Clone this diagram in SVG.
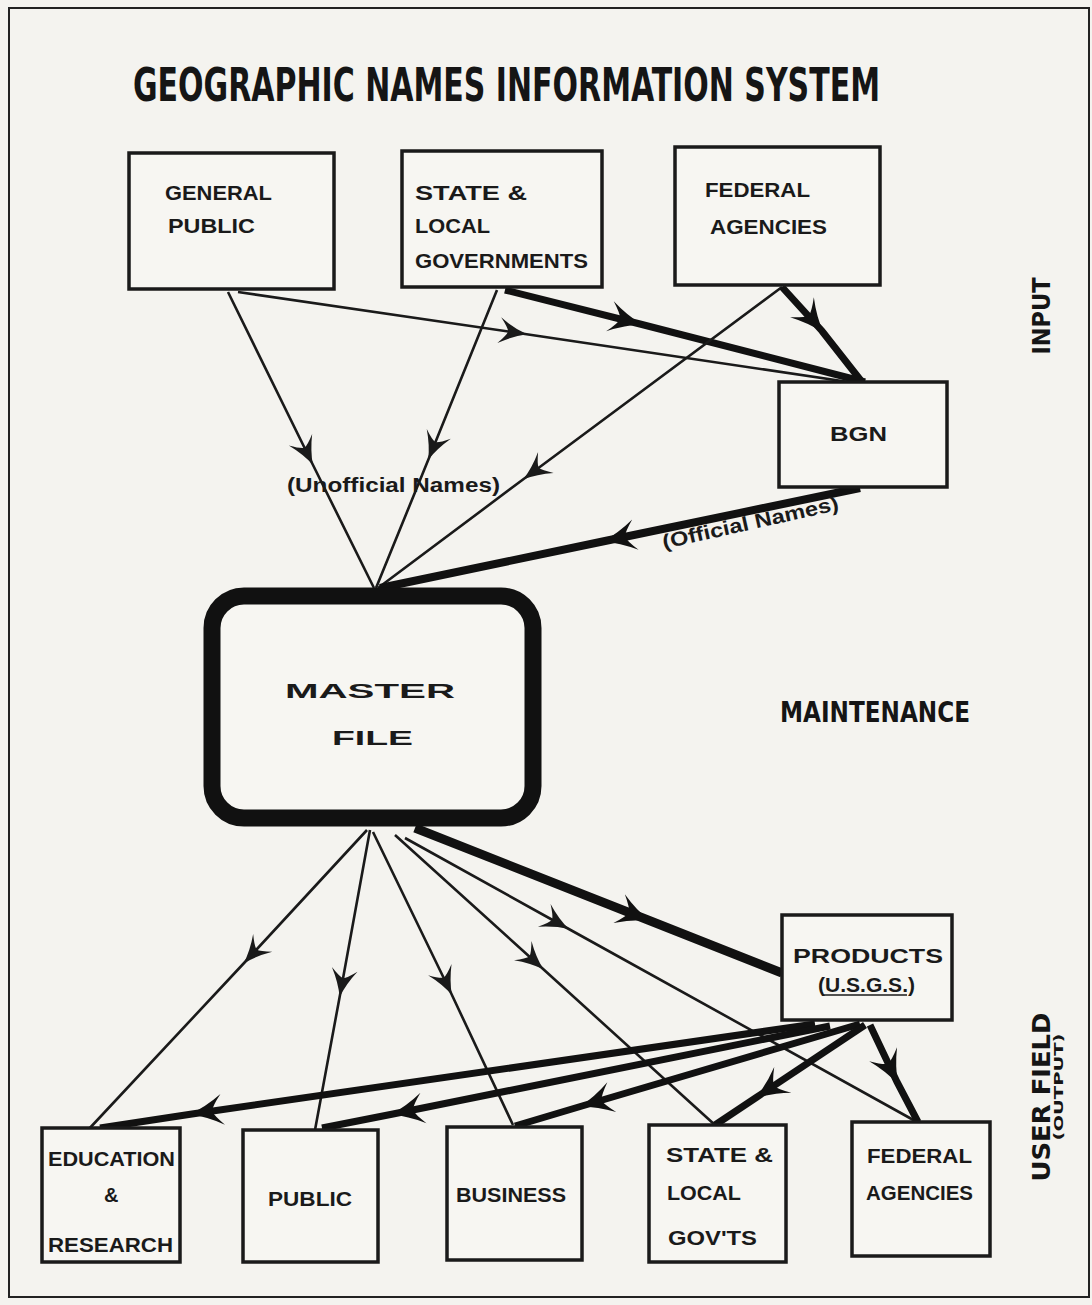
<svg xmlns="http://www.w3.org/2000/svg" width="1092" height="1305" viewBox="0 0 1092 1305">
<style>
.bg{fill:#f4f3ef}
.frame{fill:none;stroke:#222;stroke-width:2}
.box{fill:#f7f6f2;stroke:#1a1a1a;stroke-width:3.5}
.mf{fill:#f7f6f2;stroke:#111;stroke-width:17}
.lbl{font-family:"Liberation Sans","DejaVu Sans",sans-serif;font-weight:bold;font-size:20px;fill:#1a1a1a}
.cond{font-family:"DejaVu Sans Condensed","DejaVu Sans","Liberation Sans",sans-serif;font-weight:bold;font-stretch:condensed;fill:#151515}
.thin{fill:none;stroke:#1a1a1a;stroke-width:2.6;marker-mid:url(#ah)}
.thick{fill:none;stroke:#111;stroke-width:7;marker-mid:url(#ahb)}
</style>
<defs>
<marker id="ah" viewBox="-28 -14 31 28" markerWidth="31" markerHeight="28" refX="0" refY="0" orient="auto" markerUnits="userSpaceOnUse">
<path d="M2,0 Q-12,-4 -26,-13 Q-18,-4 -17,0 Q-18,4 -26,13 Q-12,4 2,0 Z" fill="#1a1a1a"/>
</marker>
<marker id="ahb" viewBox="-28 -14 31 28" markerWidth="37" markerHeight="34" refX="0" refY="0" orient="auto" markerUnits="userSpaceOnUse">
<path d="M2,0 Q-12,-4 -26,-13 Q-18,-4 -17,0 Q-18,4 -26,13 Q-12,4 2,0 Z" fill="#111"/>
</marker>
</defs>
<rect class="bg" x="0" y="0" width="1092" height="1305"/>
<rect class="frame" x="9" y="8" width="1080" height="1289"/>

<text class="cond" font-size="35" transform="translate(133,101) scale(1,1.3)" textLength="747" lengthAdjust="spacingAndGlyphs">GEOGRAPHIC  NAMES  INFORMATION  SYSTEM</text>
<text class="cond" x="780" y="722" font-size="28" textLength="190" lengthAdjust="spacingAndGlyphs">MAINTENANCE</text>
<text class="cond" font-size="24" text-anchor="middle" transform="translate(1050,316) rotate(-90)" textLength="77" lengthAdjust="spacingAndGlyphs">INPUT</text>
<text class="cond" font-size="25" text-anchor="middle" transform="translate(1050,1097) rotate(-90)" textLength="169" lengthAdjust="spacingAndGlyphs">USER FIELD</text>
<text class="cond" font-size="13" text-anchor="middle" transform="translate(1063,1087) rotate(-90)" textLength="107" lengthAdjust="spacingAndGlyphs">(OUTPUT)</text>

<g id="connectors">
<path class="thin" d="M228,292 L312,463 L374,588"/>
<path class="thin" d="M238,292 L525,334 L862,384"/>
<path class="thin" d="M497,290 L429,458 L376,588"/>
<path class="thick" d="M505,290 L640,324 L865,382"/>
<path class="thin" d="M782,287 L525,478 L378,588"/>
<path class="thick" d="M782,287 L822,331 L862,382"/>
<path class="thick" style="stroke-width:8" d="M860,488 L605,541 L380,588"/>

<path class="thin" d="M367,830 L245,962 L88,1130"/>
<path class="thin" d="M370,830 L340,995 L315,1130"/>
<path class="thin" d="M373,832 L451,993 L513,1125"/>
<path class="thin" d="M395,835 L542,968 L715,1125"/>
<path class="thin" d="M405,838 L567,928 L917,1122"/>
<path class="thick" style="stroke-width:9" d="M415,828 L648,920 L782,973"/>

<path class="thick" d="M815,1024 L192,1114 L100,1128"/>
<path class="thick" d="M830,1026 L393,1114 L322,1128"/>
<path class="thick" d="M860,1024 L582,1106 L515,1126"/>
<path class="thick" d="M865,1025 L757,1097 L715,1125"/>
<path class="thick" d="M870,1025 L897,1082 L918,1122"/>
</g>

<g id="general-public">
<rect class="box" x="129" y="153" width="205" height="136"/>
<text class="lbl" x="165" y="200" textLength="107" lengthAdjust="spacingAndGlyphs">GENERAL</text>
<text class="lbl" x="168" y="233" textLength="87" lengthAdjust="spacingAndGlyphs">PUBLIC</text>
</g>
<g id="state-local-governments">
<rect class="box" x="402" y="151" width="200" height="136"/>
<text class="lbl" x="415" y="200" textLength="112" lengthAdjust="spacingAndGlyphs">STATE  &amp;</text>
<text class="lbl" x="415" y="233" textLength="75" lengthAdjust="spacingAndGlyphs">LOCAL</text>
<text class="lbl" x="415" y="268" textLength="173" lengthAdjust="spacingAndGlyphs">GOVERNMENTS</text>
</g>
<g id="federal-agencies-in">
<rect class="box" x="675" y="147" width="205" height="138"/>
<text class="lbl" x="705" y="197" textLength="105" lengthAdjust="spacingAndGlyphs">FEDERAL</text>
<text class="lbl" x="710" y="234" textLength="117" lengthAdjust="spacingAndGlyphs">AGENCIES</text>
</g>
<g id="bgn">
<rect class="box" x="779" y="382" width="168" height="105"/>
<text class="lbl" x="830" y="441" font-size="23" textLength="57" lengthAdjust="spacingAndGlyphs">BGN</text>
</g>
<text class="lbl" x="287" y="492" font-size="16" textLength="213" lengthAdjust="spacingAndGlyphs">(Unofficial  Names)</text>
<text class="lbl" font-size="16" transform="translate(664,549) rotate(-12.6)" textLength="180" lengthAdjust="spacingAndGlyphs">(Official  Names)</text>

<g id="master-file">
<rect class="mf" x="212" y="596" width="321" height="222" rx="32" ry="32"/>
<text class="lbl" x="285" y="698" font-size="32" textLength="170" lengthAdjust="spacingAndGlyphs">MASTER</text>
<text class="lbl" x="332" y="745" font-size="32" textLength="81" lengthAdjust="spacingAndGlyphs">FILE</text>
</g>

<g id="products">
<rect class="box" x="782" y="915" width="170" height="105"/>
<text class="lbl" x="793" y="963" font-size="21" textLength="150" lengthAdjust="spacingAndGlyphs">PRODUCTS</text>
<text class="lbl" x="818" y="992" font-size="15" textLength="97" lengthAdjust="spacingAndGlyphs">(U.S.G.S.)</text>
<line x1="823" y1="995" x2="907" y2="995" stroke="#1a1a1a" stroke-width="1.5"/>
</g>

<g id="education-research">
<rect class="box" x="42" y="1128" width="138" height="134"/>
<text class="lbl" x="48" y="1166" font-size="19" textLength="127" lengthAdjust="spacingAndGlyphs">EDUCATION</text>
<text class="lbl" x="104" y="1202" font-size="19">&amp;</text>
<text class="lbl" x="48" y="1252" font-size="19" textLength="125" lengthAdjust="spacingAndGlyphs">RESEARCH</text>
</g>
<g id="public">
<rect class="box" x="243" y="1130" width="135" height="132"/>
<text class="lbl" x="268" y="1206" font-size="19" textLength="84" lengthAdjust="spacingAndGlyphs">PUBLIC</text>
</g>
<g id="business">
<rect class="box" x="447" y="1127" width="135" height="133"/>
<text class="lbl" x="456" y="1202" font-size="19" textLength="110" lengthAdjust="spacingAndGlyphs">BUSINESS</text>
</g>
<g id="state-local-govts">
<rect class="box" x="649" y="1125" width="137" height="137"/>
<text class="lbl" x="666" y="1162" font-size="19" textLength="107" lengthAdjust="spacingAndGlyphs">STATE  &amp;</text>
<text class="lbl" x="667" y="1200" font-size="19" textLength="74" lengthAdjust="spacingAndGlyphs">LOCAL</text>
<text class="lbl" x="668" y="1245" font-size="19" textLength="89" lengthAdjust="spacingAndGlyphs">GOV'TS</text>
</g>
<g id="federal-agencies-out">
<rect class="box" x="852" y="1122" width="138" height="134"/>
<text class="lbl" x="867" y="1163" font-size="19" textLength="105" lengthAdjust="spacingAndGlyphs">FEDERAL</text>
<text class="lbl" x="866" y="1200" font-size="19" textLength="107" lengthAdjust="spacingAndGlyphs">AGENCIES</text>
</g>
</svg>
